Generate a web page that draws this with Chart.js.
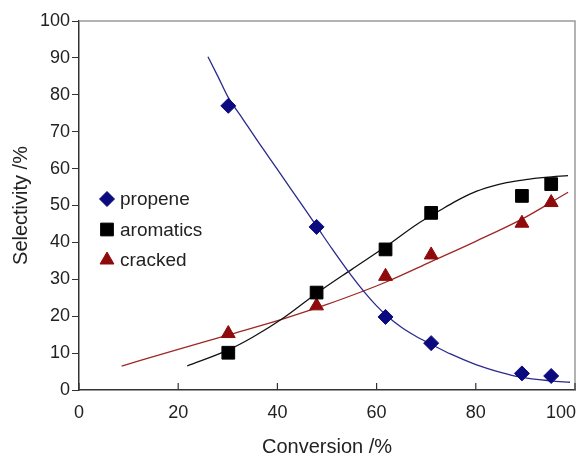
<!DOCTYPE html>
<html>
<head>
<meta charset="utf-8">
<script src="https://cdn.jsdelivr.net/npm/chart.js@4/dist/chart.umd.min.js"></script>
<style>
    html, body { margin: 0; padding: 0; background: #fff; }
    #wrap { width: 577px; height: 459px; }
</style>
</head>
<body>
<div id="wrap"><canvas id="selChart"></canvas></div>
<script>
// Measured points
const conversion = [30.1, 47.9, 61.8, 71.0, 89.3, 95.2];
const propene = [77.0, 44.2, 19.8, 12.7, 4.5, 3.8];
const aromatics = [10.1, 26.4, 38.1, 48.0, 52.6, 55.8];
const cracked = [15.3, 22.8, 30.8, 36.6, 45.2, 50.8];

// Fitted curves
const propeneFitX = [26, 28, 30, 33, 36, 40, 44, 48, 51, 54.8, 57.5, 60, 62, 65, 68, 71, 75, 80, 85, 89, 95, 99];
const propeneFitY = [90.3, 85, 79.5, 73.5, 67.5, 59.8, 52, 44.2, 38.3, 31.2, 26.6, 22.8, 20.2, 17, 14.5, 12.4, 9.7, 6.9, 4.8, 3.5, 2.5, 2.1];

const aromaticsFitX = [21.8, 30, 35, 41.2, 48, 55, 62, 68, 72.8, 76, 79.5, 83, 86.2, 90, 94, 98.6];
const aromaticsFitY = [6.5, 10.8, 14.3, 19.5, 26.3, 32.7, 39.0, 44.8, 48.7, 51.2, 53.5, 55.1, 56.2, 57.0, 57.6, 58.1];

const crackedFitX = [8.6, 20, 30, 41.2, 50, 57.5, 61.8, 71, 80, 89.3, 98.6];
const crackedFitY = [6.5, 11.0, 14.9, 19.3, 23.2, 26.9, 29.2, 34.8, 40.3, 46.3, 53.6];

const xTicks = [0, 20, 40, 60, 80, 100];

const navy = '#0b0b7f';
const darkRed = '#8f0a0a';
const textColor = '#222';
const fontFamily = "'Liberation Sans', Arial, sans-serif";

const pts = (xs, ys) => xs.map((x, i) => ({ x: x, y: ys[i] }));

// Top/right grey frame, inward x ticks, x labels, legend inside the plot
const framePlugin = {
    id: 'frame',
    beforeDatasetsDraw(chart) {
        const { ctx, chartArea: a, scales } = chart;
        ctx.save();
        ctx.strokeStyle = '#9a9a9a';
        ctx.lineWidth = 1.5;
        ctx.beginPath();
        ctx.moveTo(a.left, a.top);
        ctx.lineTo(a.right, a.top);
        ctx.lineTo(a.right, a.bottom);
        ctx.stroke();

        ctx.strokeStyle = '#333';
        ctx.lineWidth = 1.2;
        ctx.fillStyle = textColor;
        ctx.font = '18px ' + fontFamily;
        ctx.textBaseline = 'middle';
        xTicks.forEach((v, i) => {
            const px = scales.x.getPixelForValue(v);
            ctx.beginPath();
            ctx.moveTo(px, a.bottom);
            ctx.lineTo(px, a.bottom - 7);
            ctx.stroke();
            // last label is pushed in so it stays on the canvas
            const last = i === xTicks.length - 1;
            ctx.textAlign = last ? 'right' : 'center';
            ctx.fillText(String(v), last ? chart.width - 1 : px, a.bottom + 23);
        });
        ctx.restore();
    },
    afterDraw(chart) {
        const { ctx } = chart;
        const items = [0, 1, 2].map(i => chart.data.datasets[i]);
        ctx.save();
        ctx.font = '19px ' + fontFamily;
        ctx.textBaseline = 'middle';
        items.forEach((ds, i) => {
            const y = 199 + i * 30.5;
            ctx.fillStyle = ds.backgroundColor;
            ctx.strokeStyle = ds.borderColor;
            Chart.helpers.drawPoint(ctx, {
                pointStyle: ds.pointStyle,
                radius: ds.pointRadius,
                rotation: 0,
                borderWidth: 1
            }, 107, y);
            ctx.fillStyle = textColor;
            ctx.fillText(ds.label, 120, y + 1);
        });
        ctx.restore();
    }
};

const curve = (label, xs, ys, color) => ({
    type: 'line',
    label: label,
    data: pts(xs, ys),
    borderColor: color,
    borderWidth: 1.3,
    pointRadius: 0,
    fill: false,
    cubicInterpolationMode: 'monotone',
    order: 2
});

new Chart(document.getElementById('selChart'), {
    type: 'scatter',
    data: {
        datasets: [
            {
                label: 'propene', data: pts(conversion, propene),
                pointStyle: 'rectRot', pointRadius: 7.5,
                backgroundColor: navy, borderColor: navy, borderWidth: 1, order: 1
            },
            {
                label: 'aromatics', data: pts(conversion, aromatics),
                pointStyle: 'rect', pointRadius: 9,
                backgroundColor: '#000', borderColor: '#000', borderWidth: 1, order: 1
            },
            {
                label: 'cracked', data: pts(conversion, cracked),
                pointStyle: 'triangle', pointRadius: 8,
                backgroundColor: darkRed, borderColor: darkRed, borderWidth: 1, order: 1
            },
            curve('propene fit', propeneFitX, propeneFitY, '#2a2a8c'),
            curve('aromatics fit', aromaticsFitX, aromaticsFitY, '#111'),
            curve('cracked fit', crackedFitX, crackedFitY, '#a02626')
        ]
    },
    options: {
        responsive: true,
        maintainAspectRatio: false,
        animation: false,
        layout: { autoPadding: false, padding: { top: 21, right: 2, left: 0, bottom: 0 } },
        plugins: {
            legend: { display: false },
            tooltip: { enabled: false }
        },
        scales: {
            x: {
                type: 'linear',
                min: 0, max: 100,
                afterFit: s => { s.height = 69; s.paddingLeft = 0; s.paddingRight = 0; },
                afterBuildTicks: s => { s.ticks = xTicks.map(v => ({ value: v })); },
                grid: { display: true, drawOnChartArea: false, drawTicks: false },
                border: { color: '#333', width: 1.5 },
                ticks: { display: false },
                title: {
                    display: true, text: 'Conversion /%', color: textColor,
                    font: { size: 20, family: fontFamily }, padding: { top: 0, bottom: 0 }
                }
            },
            y: {
                min: 0, max: 100,
                afterFit: s => { s.width = 79; },
                grid: { drawOnChartArea: false, drawTicks: true, tickLength: 7, color: '#333' },
                border: { color: '#333', width: 1.5 },
                ticks: { stepSize: 10, color: textColor, padding: 2, font: { size: 18, family: fontFamily } },
                title: {
                    display: true, text: 'Selectivity /%', color: textColor,
                    font: { size: 20, family: fontFamily }, padding: { top: 9, bottom: 0 }
                }
            }
        }
    },
    plugins: [framePlugin]
});
</script>
</body>
</html>
